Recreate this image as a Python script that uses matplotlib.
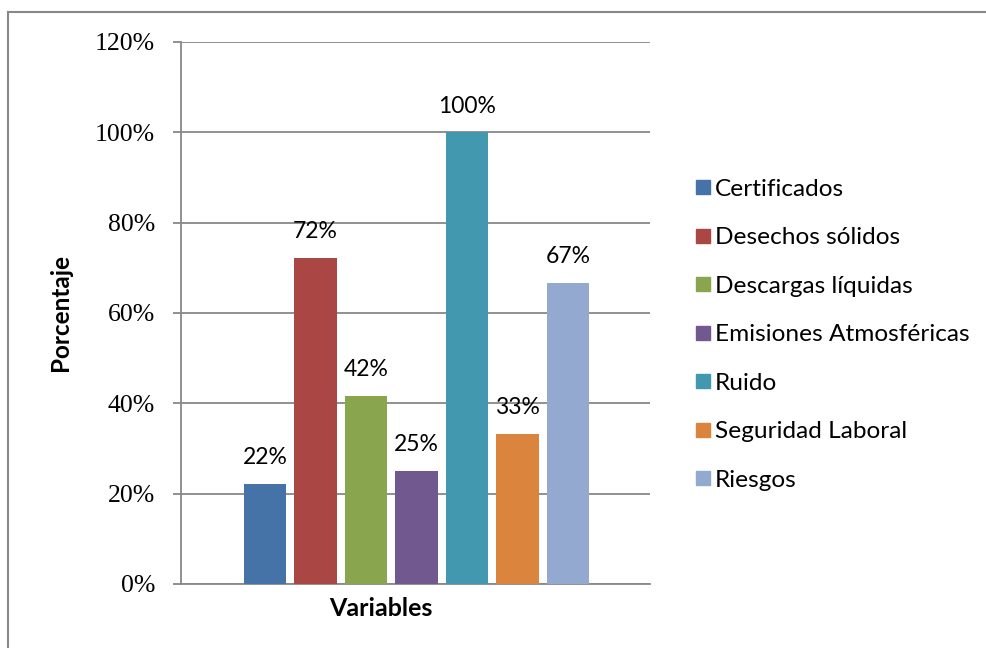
import matplotlib.pyplot as plt
from matplotlib.lines import Line2D

categorias = ['Certificados', 'Desechos sólidos', 'Descargas líquidas',
              'Emisiones Atmosféricas', 'Ruido', 'Seguridad Laboral', 'Riesgos']
valores = [0.222, 0.722, 0.417, 0.25, 1.0, 0.333, 0.667]
etiquetas = ['22%', '72%', '42%', '25%', '100%', '33%', '67%']
colores = ['#4572A7', '#AA4643', '#89A54E', '#71588F', '#4198AF', '#DB843D', '#93A9CF']
yticks = [0, 0.2, 0.4, 0.6, 0.8, 1.0, 1.2]
ytick_labels = ['0%', '20%', '40%', '60%', '80%', '100%', '120%']

sans = ['Lato', 'DejaVu Sans']
gris = '#888888'

fig = plt.figure(figsize=(9.87, 6.48), dpi=100)
ax = fig.add_axes([0.1834, 0.0988, 0.4752, 0.8364])

x = list(range(len(valores)))
barras = ax.bar(x, valores, width=0.84, color=colores, zorder=3)

for b, t in zip(barras, etiquetas):
    ax.text(b.get_x() + b.get_width() / 2, b.get_height() + 0.035, t,
            ha='center', va='bottom', fontsize=16.5, family=sans)

ax.set_xlim(-1.67, 7.63)
ax.set_ylim(0, 1.2)
ax.set_yticks(yticks)
ax.set_yticklabels(ytick_labels, family='Liberation Serif', fontsize=18.5)
ax.set_xticks([])
ax.yaxis.grid(True, color=gris, linewidth=1.3, zorder=0)
ax.tick_params(axis='y', length=5.8, width=1.3, color=gris, pad=13)

for s in ['top', 'right']:
    ax.spines[s].set_visible(False)
for s in ['left', 'bottom']:
    ax.spines[s].set_color(gris)
    ax.spines[s].set_linewidth(1.3)

ax.set_ylabel('Porcentaje', fontsize=17.5, fontweight='bold', family=sans)
ax.yaxis.set_label_coords(-0.232, 0.5)
ax.set_xlabel('Variables', fontsize=18, fontweight='bold', family=sans, va='center')
ax.xaxis.set_label_coords(0.426, -0.046)

# leyenda
handles = [Line2D([], [], marker='s', linestyle='none', markersize=10.5,
                  markerfacecolor=c, markeredgecolor=c) for c in colores]
fig.legend(handles, categorias, loc='upper left', bbox_to_anchor=(0.692, 0.743),
           frameon=False, prop={'family': sans, 'size': 17.6},
           handlelength=0.62, handletextpad=0.18, labelspacing=1.12, borderpad=0)

# marco exterior (cortado a la derecha y abajo)
fig.add_artist(Line2D([0.0081, 0.0081], [0, 0.9815], transform=fig.transFigure,
                      color=gris, linewidth=1.5))
fig.add_artist(Line2D([0.0081, 1.0], [0.9815, 0.9815], transform=fig.transFigure,
                      color=gris, linewidth=1.5))

fig.savefig('out.png', dpi=100)
